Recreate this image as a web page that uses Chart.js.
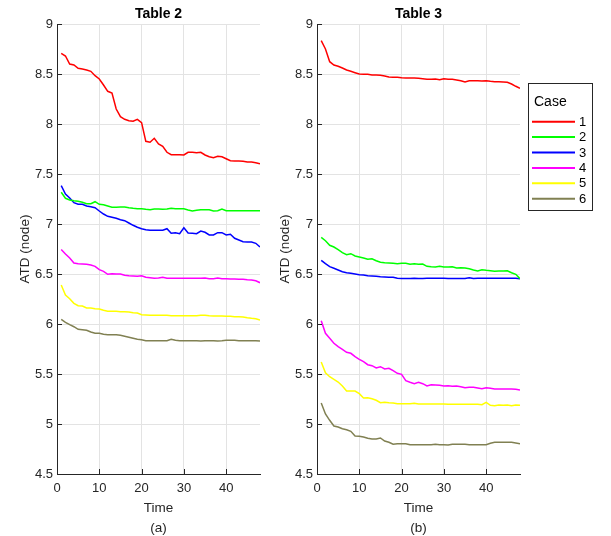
<!DOCTYPE html>
<html><head><meta charset="utf-8">
<script src="https://cdn.jsdelivr.net/npm/chart.js@4/dist/chart.umd.min.js"></script>
<style>
html,body{margin:0;padding:0;background:#fff;width:611px;height:536px;overflow:hidden}
canvas{position:absolute;top:0}
#c1{left:0;width:290px;height:536px}
#c2{left:260px;width:351px;height:536px}
</style></head><body>
<canvas id="c1" width="290" height="536"></canvas>
<canvas id="c2" width="351" height="536"></canvas>
<script>
const time = [1,2,3,4,5,6,7,8,9,10,11,12,13,14,15,16,17,18,19,20,21,22,23,24,25,26,27,28,29,30,31,32,33,34,35,36,37,38,39,40,41,42,43,44,45,46,47,48];
const xTicks = [0,10,20,30,40];
const yTicks = [4.5,5,5.5,6,6.5,7,7.5,8,8.5,9];
const caseLabels = ['1','2','3','4','5','6'];
const caseColors = ['#ff0000','#00ff00','#0000ff','#ff00ff','#ffff00','#808052'];
const panelTitles = ['Table 2','Table 3'];
const panelCaptions = ['(a)','(b)'];

const table2_case1 = [8.707,8.68,8.60,8.59,8.557,8.55,8.54,8.527,8.483,8.45,8.39,8.327,8.31,8.15,8.073,8.047,8.033,8.027,8.047,8.013,7.827,7.817,7.857,7.80,7.777,7.717,7.693,7.693,7.693,7.69,7.717,7.717,7.713,7.717,7.69,7.673,7.663,7.677,7.673,7.653,7.633,7.63,7.63,7.627,7.62,7.62,7.613,7.603];
const table2_case2 = [7.317,7.257,7.24,7.233,7.227,7.217,7.203,7.203,7.223,7.197,7.193,7.18,7.167,7.167,7.17,7.17,7.163,7.157,7.153,7.153,7.147,7.143,7.15,7.15,7.147,7.15,7.157,7.153,7.153,7.153,7.14,7.13,7.137,7.143,7.143,7.143,7.13,7.133,7.15,7.133,7.133,7.133,7.133,7.133,7.133,7.133,7.133,7.133];
const table2_case3 = [7.383,7.30,7.26,7.213,7.197,7.197,7.18,7.173,7.163,7.13,7.10,7.077,7.067,7.057,7.043,7.033,7.01,6.987,6.967,6.953,6.943,6.937,6.937,6.937,6.937,6.953,6.907,6.913,6.903,6.963,6.91,6.907,6.903,6.93,6.917,6.89,6.89,6.913,6.913,6.89,6.897,6.857,6.84,6.823,6.82,6.82,6.807,6.77];
const table2_case4 = [6.745,6.70,6.66,6.61,6.603,6.60,6.597,6.59,6.577,6.543,6.527,6.497,6.503,6.50,6.50,6.487,6.483,6.48,6.477,6.483,6.467,6.463,6.457,6.46,6.467,6.457,6.457,6.457,6.457,6.457,6.457,6.457,6.457,6.457,6.46,6.453,6.453,6.46,6.453,6.453,6.45,6.45,6.447,6.447,6.443,6.44,6.433,6.413];
const table2_case5 = [6.39,6.29,6.253,6.207,6.183,6.18,6.16,6.16,6.153,6.15,6.137,6.127,6.127,6.127,6.123,6.123,6.12,6.113,6.11,6.093,6.09,6.087,6.087,6.087,6.087,6.087,6.083,6.083,6.083,6.083,6.083,6.083,6.083,6.087,6.087,6.083,6.08,6.08,6.08,6.077,6.077,6.073,6.073,6.07,6.063,6.057,6.053,6.04];
const table2_case6 = [6.047,6.017,5.993,5.973,5.947,5.943,5.937,5.92,5.907,5.907,5.897,5.893,5.893,5.893,5.887,5.877,5.867,5.857,5.847,5.843,5.833,5.833,5.833,5.833,5.833,5.833,5.847,5.837,5.833,5.833,5.833,5.833,5.833,5.83,5.833,5.833,5.833,5.83,5.833,5.837,5.837,5.837,5.833,5.833,5.833,5.833,5.833,5.83];

const table3_case1 = [8.833,8.75,8.623,8.59,8.577,8.56,8.54,8.527,8.513,8.50,8.497,8.497,8.49,8.49,8.487,8.48,8.47,8.467,8.467,8.463,8.46,8.46,8.46,8.457,8.453,8.447,8.447,8.45,8.443,8.453,8.447,8.447,8.44,8.433,8.42,8.433,8.433,8.433,8.43,8.433,8.427,8.423,8.423,8.42,8.417,8.40,8.377,8.357];
const table3_case2 = [6.867,6.833,6.787,6.77,6.743,6.713,6.693,6.703,6.68,6.67,6.66,6.647,6.653,6.633,6.617,6.613,6.61,6.607,6.603,6.607,6.607,6.597,6.603,6.597,6.60,6.577,6.573,6.57,6.577,6.57,6.57,6.573,6.56,6.563,6.56,6.553,6.54,6.53,6.543,6.537,6.533,6.527,6.53,6.53,6.533,6.513,6.497,6.453];
const table3_case3 = [6.637,6.603,6.573,6.557,6.54,6.523,6.513,6.507,6.50,6.493,6.49,6.483,6.48,6.477,6.473,6.47,6.467,6.467,6.457,6.455,6.455,6.455,6.457,6.455,6.455,6.457,6.457,6.457,6.457,6.457,6.455,6.455,6.455,6.455,6.455,6.463,6.455,6.457,6.457,6.457,6.457,6.457,6.457,6.457,6.457,6.457,6.457,6.453];
const table3_case4 = [6.033,5.907,5.857,5.807,5.773,5.747,5.717,5.707,5.673,5.647,5.623,5.593,5.583,5.56,5.573,5.55,5.557,5.533,5.507,5.497,5.433,5.417,5.403,5.417,5.403,5.38,5.393,5.39,5.387,5.38,5.383,5.377,5.38,5.373,5.363,5.367,5.367,5.36,5.353,5.363,5.357,5.35,5.35,5.35,5.35,5.35,5.347,5.34];
const table3_case5 = [5.62,5.513,5.473,5.447,5.42,5.38,5.33,5.33,5.33,5.303,5.26,5.263,5.253,5.237,5.213,5.217,5.213,5.21,5.203,5.203,5.203,5.203,5.207,5.20,5.20,5.20,5.20,5.20,5.20,5.20,5.197,5.197,5.197,5.197,5.197,5.197,5.197,5.197,5.193,5.217,5.187,5.183,5.19,5.187,5.19,5.183,5.19,5.187];
const table3_case6 = [5.21,5.10,5.037,4.98,4.97,4.953,4.943,4.927,4.88,4.877,4.87,4.857,4.85,4.85,4.86,4.83,4.817,4.797,4.803,4.803,4.803,4.793,4.793,4.793,4.793,4.793,4.793,4.797,4.793,4.793,4.79,4.797,4.797,4.797,4.797,4.793,4.793,4.793,4.793,4.793,4.807,4.817,4.817,4.817,4.817,4.817,4.81,4.803];

const table2 = [table2_case1,table2_case2,table2_case3,table2_case4,table2_case5,table2_case6];
const table3 = [table3_case1,table3_case2,table3_case3,table3_case4,table3_case5,table3_case6];

const FONT = '"Liberation Sans", Arial, Helvetica, sans-serif';
Chart.defaults.font.family = FONT;
const AXIS = '#262626';
const GRID = '#e3e3e3';

const innerTicks = {
  id: 'innerTicks',
  afterDraw(chart) {
    const ctx = chart.ctx, a = chart.chartArea, xs = chart.scales.x, ys = chart.scales.y;
    ctx.save();
    ctx.strokeStyle = AXIS; ctx.lineWidth = 1;
    ctx.beginPath();
    xs.ticks.forEach(t => { const px = Math.round(xs.getPixelForValue(t.value)) + 0.5; ctx.moveTo(px, a.bottom); ctx.lineTo(px, a.bottom - 5); });
    ys.ticks.forEach(t => { const py = Math.round(ys.getPixelForValue(t.value)) + 0.5; ctx.moveTo(a.left, py); ctx.lineTo(a.left + 5, py); });
    ctx.stroke();
    ctx.restore();
  }
};

const caseLegend = {
  id: 'caseLegend',
  afterDraw(chart, args, opts) {
    if (!opts.show) return;
    const ctx = chart.ctx;
    const ox = 268, oy = 83, w = 64, h = 127;
    ctx.save();
    ctx.fillStyle = '#fff'; ctx.fillRect(ox, oy, w, h);
    ctx.strokeStyle = AXIS; ctx.lineWidth = 1; ctx.strokeRect(ox + 0.5, oy + 0.5, w, h);
    ctx.fillStyle = '#000'; ctx.textBaseline = 'middle'; ctx.textAlign = 'left';
    ctx.font = '14px ' + FONT;
    ctx.fillText('Case', 274, 102);
    ctx.font = '13px ' + FONT;
    chart.data.datasets.forEach((ds, i) => {
      const y = 121.7 + i * 15.4;
      ctx.strokeStyle = ds.borderColor; ctx.lineWidth = 2;
      ctx.beginPath(); ctx.moveTo(272, y); ctx.lineTo(315, y); ctx.stroke();
      ctx.fillText(ds.label, 319, y + 0.5);
    });
    ctx.restore();
  }
};

function makeChart(id, series, idx, rightPad, showLegend) {
  const datasets = series.map((vals, i) => ({
    label: caseLabels[i],
    data: time.map((t, k) => ({x: t, y: vals[k]})),
    borderColor: caseColors[i],
    backgroundColor: caseColors[i],
    borderWidth: 1.5,
    pointRadius: 0,
    tension: 0,
    fill: false
  }));
  return new Chart(document.getElementById(id), {
    type: 'line',
    data: {datasets},
    options: {
      responsive: false,
      animation: false,
      devicePixelRatio: 1,
      layout: {padding: {left: 0, right: rightPad, top: 0, bottom: 0}},
      plugins: {
        legend: {display: false},
        tooltip: {enabled: false},
        title: {display: true, text: panelTitles[idx], fullSize: false, color: '#000',
                font: {size: 14, weight: 'bold'}, padding: {top: 5.6, bottom: 1.6}},
        caseLegend: {show: showLegend}
      },
      scales: {
        x: {
          type: 'linear', min: 0, max: 48,
          afterBuildTicks: s => { s.ticks = xTicks.map(v => ({value: v})); },
          afterFit: s => { s.height = 62; },
          grid: {color: GRID, lineWidth: 1, drawTicks: false},
          border: {display: true, color: AXIS, width: 1},
          ticks: {color: AXIS, font: {size: 13}, padding: 7, maxRotation: 0, autoSkip: false},
          title: {display: true, text: ['Time', panelCaptions[idx]], color: AXIS,
                  font: {size: 13.5, lineHeight: 1.45}, padding: {top: 0, bottom: -2}}
        },
        y: {
          type: 'linear', min: 4.5, max: 9,
          afterBuildTicks: s => { s.ticks = yTicks.map(v => ({value: v})); },
          afterFit: s => { s.width = 57; },
          grid: {color: GRID, lineWidth: 1, drawTicks: false},
          border: {display: true, color: AXIS, width: 1},
          ticks: {color: AXIS, font: {size: 13}, padding: 4, callback: v => String(v)},
          title: {display: true, text: 'ATD (node)', color: AXIS,
                  font: {size: 13.5}, padding: {top: 17.4, bottom: 0}}
        }
      }
    },
    plugins: [innerTicks, caseLegend]
  });
}

makeChart('c1', table2, 0, 30, false);
makeChart('c2', table3, 1, 91, true);
</script>
</body></html>
